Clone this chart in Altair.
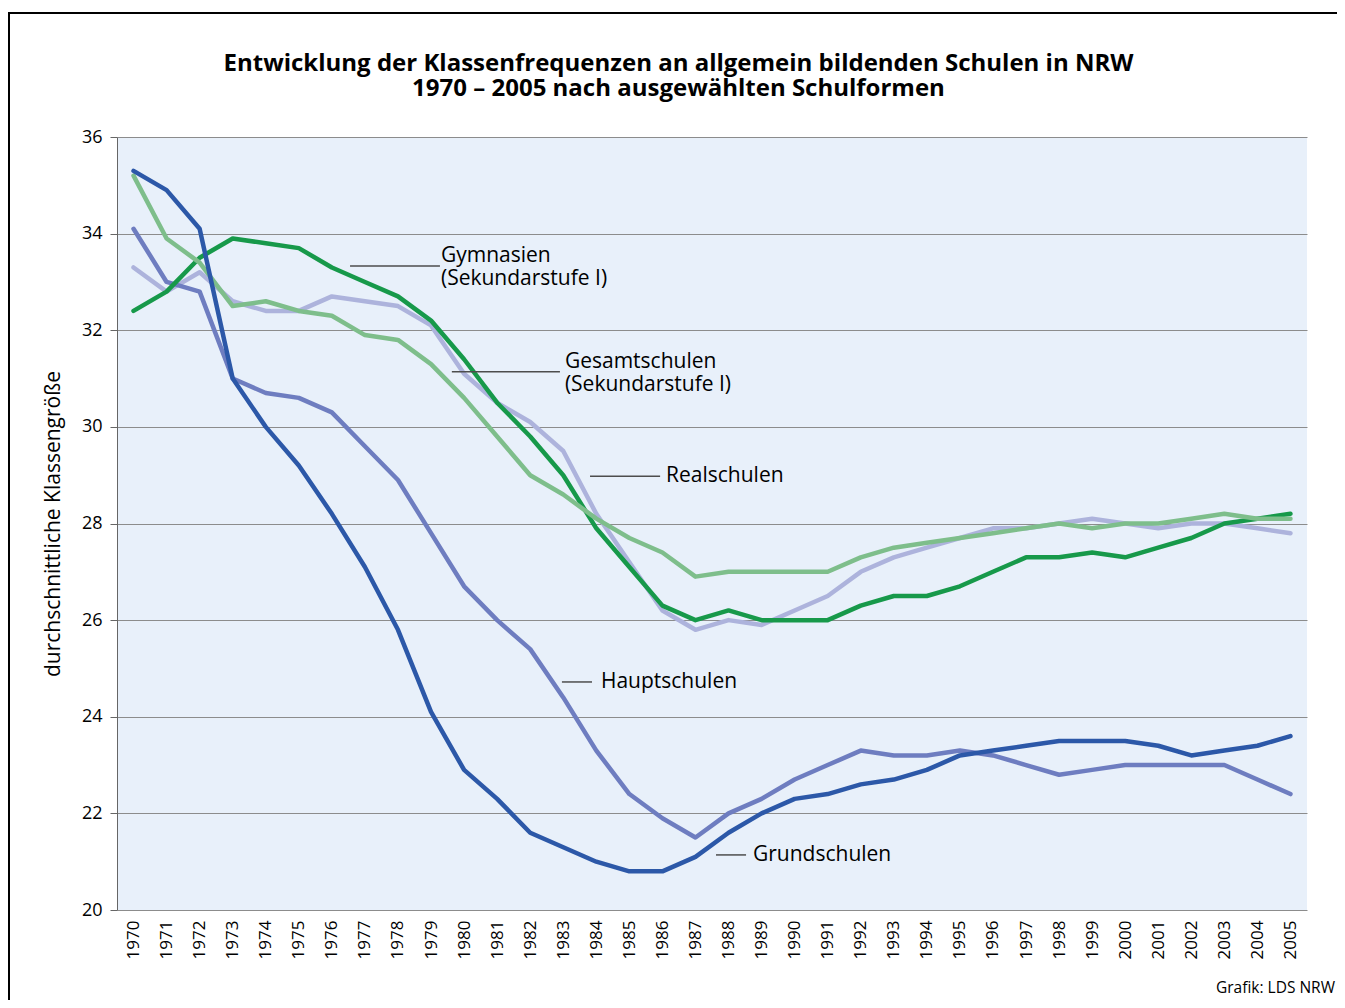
import altair as alt
import pandas as pd

years = list(range(1970, 2006))

grundschulen = [35.3, 34.9, 34.1, 31.0, 30.0, 29.2, 28.2, 27.1, 25.8, 24.1,
                22.9, 22.3, 21.6, 21.3, 21.0, 20.8, 20.8, 21.1, 21.6, 22.0,
                22.3, 22.4, 22.6, 22.7, 22.9, 23.2, 23.3, 23.4, 23.5, 23.5,
                23.5, 23.4, 23.2, 23.3, 23.4, 23.6]
hauptschulen = [34.1, 33.0, 32.8, 31.0, 30.7, 30.6, 30.3, 29.6, 28.9, 27.8,
                26.7, 26.0, 25.4, 24.4, 23.3, 22.4, 21.9, 21.5, 22.0, 22.3,
                22.7, 23.0, 23.3, 23.2, 23.2, 23.3, 23.2, 23.0, 22.8, 22.9,
                23.0, 23.0, 23.0, 23.0, 22.7, 22.4]
realschulen = [33.3, 32.8, 33.2, 32.6, 32.4, 32.4, 32.7, 32.6, 32.5, 32.1,
               31.1, 30.5, 30.1, 29.5, 28.2, 27.2, 26.2, 25.8, 26.0, 25.9,
               26.2, 26.5, 27.0, 27.3, 27.5, 27.7, 27.9, 27.9, 28.0, 28.1,
               28.0, 27.9, 28.0, 28.0, 27.9, 27.8]
gymnasien = [32.4, 32.8, 33.5, 33.9, 33.8, 33.7, 33.3, 33.0, 32.7, 32.2,
             31.4, 30.5, 29.8, 29.0, 27.9, 27.1, 26.3, 26.0, 26.2, 26.0,
             26.0, 26.0, 26.3, 26.5, 26.5, 26.7, 27.0, 27.3, 27.3, 27.4,
             27.3, 27.5, 27.7, 28.0, 28.1, 28.2]
gesamtschulen = [35.2, 33.9, 33.4, 32.5, 32.6, 32.4, 32.3, 31.9, 31.8, 31.3,
                 30.6, 29.8, 29.0, 28.6, 28.1, 27.7, 27.4, 26.9, 27.0, 27.0,
                 27.0, 27.0, 27.3, 27.5, 27.6, 27.7, 27.8, 27.9, 28.0, 27.9,
                 28.0, 28.0, 28.1, 28.2, 28.1, 28.1]

series_names = ["Realschulen", "Hauptschulen", "Gymnasien", "Gesamtschulen", "Grundschulen"]
series_values = [realschulen, hauptschulen, gymnasien, gesamtschulen, grundschulen]
series_colors = ["#ADB3DC", "#6E7DC0", "#17994A", "#7EBE8B", "#2C58A8"]

y_ticks = [20, 22, 24, 26, 28, 30, 32, 34, 36]

title_lines = ["Entwicklung der Klassenfrequenzen an allgemein bildenden Schulen in NRW",
               "1970 – 2005 nach ausgewählten Schulformen"]
y_title = "durchschnittliche Klassengröße"
source_note = "Grafik: LDS NRW"

# annotation anchors (data units)
ann_multi_text = ["Gymnasien\n(Sekundarstufe I)", "Gesamtschulen\n(Sekundarstufe I)"]
ann_multi_x0 = [1976.55, 1979.63]
ann_multi_x1 = [1979.27, 1982.90]
ann_multi_y = [33.33, 31.14]
ann_multi_tx = [1979.30, 1983.05]

ann_single_text = ["Realschulen", "Hauptschulen", "Grundschulen"]
ann_single_x0 = [1983.81, 1982.96, 1987.62]
ann_single_x1 = [1985.93, 1983.87, 1988.53]
ann_single_y = [28.98, 24.72, 21.14]
ann_single_tx = [1986.11, 1984.14, 1988.74]

FONT = "Open Sans"
W, H = 1190, 773

x_scale = alt.Scale(domain=[1969.5, 2005.5], nice=False, zero=False)
y_scale = alt.Scale(domain=[20, 36], nice=False, zero=False)

x_axis = alt.Axis(values=years, format="d", labelAngle=-90, grid=False, ticks=False,
                  domain=False, labelPadding=10, labelFontSize=17, labelFont=FONT,
                  labelColor="black", title=None, labelOverlap=False)
y_axis = alt.Axis(values=y_ticks, format="d", grid=True, gridColor="#8C8C8C", gridWidth=1,
                  tickSize=7, tickColor="#666666", domainColor="#666666", labelPadding=8,
                  labelFontSize=18, labelFont=FONT, labelColor="black",
                  title=y_title, titleFont=FONT, titleFontSize=21,
                  titleFontWeight="normal", titleColor="black", titlePadding=18)

X = alt.X("Jahr:Q", scale=x_scale, axis=x_axis)
Y = alt.Y("Wert:Q", scale=y_scale, axis=y_axis)

layers = []
for name, vals, col in zip(series_names, series_values, series_colors):
    df = pd.DataFrame({"Jahr": years, "Wert": vals, "Schulform": name})
    layers.append(
        alt.Chart(df).mark_line(strokeWidth=4.5, strokeCap="round", strokeJoin="round", color=col)
        .encode(x=X, y=Y)
    )

rules_df = pd.DataFrame({
    "Jahr": ann_multi_x0 + ann_single_x0,
    "Jahr2": ann_multi_x1 + ann_single_x1,
    "Wert": ann_multi_y + ann_single_y,
})
multi_df = pd.DataFrame({"Jahr": ann_multi_tx, "Wert": ann_multi_y, "label": ann_multi_text})
single_df = pd.DataFrame({"Jahr": ann_single_tx, "Wert": ann_single_y, "label": ann_single_text})

rules = alt.Chart(rules_df).mark_rule(color="#4D4D4D", strokeWidth=1.5).encode(
    x=X, x2="Jahr2:Q", y=Y,
)
multi_text = alt.Chart(multi_df).mark_text(
    align="left", baseline="alphabetic", lineBreak="\n", lineHeight=23, dy=-4,
    font=FONT, fontSize=21, color="black"
).encode(x=X, y=Y, text="label:N")
single_text = alt.Chart(single_df).mark_text(
    align="left", baseline="middle", font=FONT, fontSize=21, color="black"
).encode(x=X, y=Y, text="label:N")

frame = alt.Chart(pd.DataFrame({"a": [0]})).mark_rect(
    fill="white", fillOpacity=0, stroke="black", strokeWidth=2
).encode(
    x=alt.value(-108), x2=alt.value(1400), y=alt.value(-124), y2=alt.value(1100)
)

title_text = alt.Chart(pd.DataFrame({"t": ["\n".join(title_lines)]})).mark_text(
    align="center", baseline="alphabetic", lineBreak="\n", lineHeight=25.5,
    font=FONT, fontSize=24, fontWeight="bold", color="black"
).encode(x=alt.value(561.5), y=alt.value(-66.5), text="t:N")

footer = alt.Chart(pd.DataFrame({"t": [source_note]})).mark_text(
    align="right", baseline="alphabetic", font=FONT, fontSize=15.5, color="black"
).encode(x=alt.value(1218), y=alt.value(856), text="t:N")

chart = alt.layer(*layers, rules, multi_text, single_text, frame, title_text, footer).properties(
    width=W, height=H,
    padding={"left": 109, "top": 129, "right": 30, "bottom": 90},
    autosize=alt.AutoSizeParams(type="none"),
    background="white",
).configure_view(
    fill="#E8F0FA", strokeWidth=0
)

chart.save("out.html", embed_options={"renderer": "svg", "actions": False})
